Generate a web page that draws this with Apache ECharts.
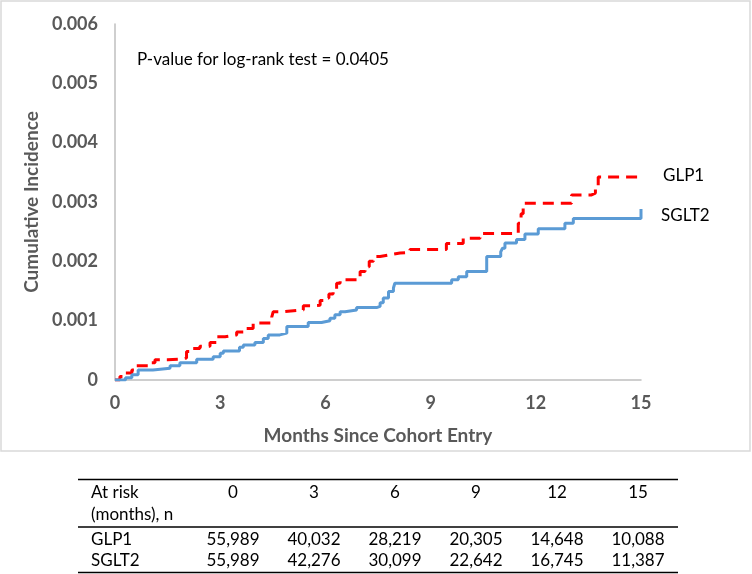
<!DOCTYPE html>
<html>
<head>
<meta charset="utf-8">
<title>Cumulative Incidence</title>
<script src="https://cdn.jsdelivr.net/npm/echarts@6.0.0/dist/echarts.min.js"></script>
<style>
  html, body { margin: 0; padding: 0; background: #fff; }
  #chart { width: 752px; height: 574px; }
</style>
</head>
<body>
<div id="chart"></div>
<script>
// curve data: [month, cumulative incidence] at each step
var glp1Curve = [
  [0, 0], [0.14, 0.00006], [0.3, 0.00012], [0.48, 0.00017], [0.62, 0.00024], [1.0, 0.00029],
  [1.14, 0.00034], [1.5, 0.00035], [1.85, 0.00037], [2.04, 0.00048], [2.2, 0.00053],
  [2.42, 0.00057], [2.71, 0.00063], [2.9, 0.00073], [3.14, 0.00076], [3.47, 0.00081],
  [3.66, 0.00087], [3.94, 0.00096], [4.47, 0.00106], [4.51, 0.00115], [4.8, 0.00118],
  [5.37, 0.00125], [5.61, 0.00126], [5.85, 0.00134], [5.99, 0.00138], [6.1, 0.00145],
  [6.22, 0.00152], [6.32, 0.00163], [6.42, 0.00169], [6.99, 0.00183], [7.13, 0.00191],
  [7.25, 0.002], [7.37, 0.00208], [7.56, 0.00211], [7.84, 0.00214], [8.13, 0.00215],
  [8.41, 0.0022], [9.45, 0.0023], [9.93, 0.00239], [10.41, 0.00247], [11.5, 0.00264],
  [11.58, 0.0028], [11.64, 0.00298], [13.02, 0.00312], [13.59, 0.00315], [13.7, 0.00328],
  [13.78, 0.00342], [15, 0.00342]
];
var sglt2Curve = [
  [0, 0], [0.3, 0.00004], [0.48, 0.00009], [0.66, 0.00017], [1.08, 0.0002], [1.57, 0.00024],
  [1.85, 0.00029], [2.33, 0.00035], [2.8, 0.00039], [3.0, 0.00045], [3.09, 0.00049],
  [3.55, 0.00055], [3.66, 0.00059], [3.99, 0.00063], [4.23, 0.0007], [4.37, 0.00076],
  [4.7, 0.00079], [4.9, 0.0009], [5.51, 0.00097], [5.89, 0.001], [6.13, 0.00104],
  [6.27, 0.0011], [6.42, 0.00115], [6.56, 0.00118], [6.89, 0.00122], [7.46, 0.00124],
  [7.56, 0.0013], [7.65, 0.00138], [7.8, 0.00149], [7.94, 0.00155], [7.98, 0.00163],
  [9.6, 0.00169], [9.79, 0.00174], [10.03, 0.00183], [10.6, 0.00208], [11.0, 0.00216],
  [11.05, 0.00222], [11.12, 0.00231], [11.45, 0.00237], [11.69, 0.00246], [12.07, 0.00255],
  [12.83, 0.00264], [13.07, 0.00272], [15, 0.00288]
];

// at-risk table
var riskMonths = ['0', '3', '6', '9', '12', '15'];
var glp1Risk = ['55,989', '40,032', '28,219', '20,305', '14,648', '10,088'];
var sglt2Risk = ['55,989', '42,276', '30,099', '22,642', '16,745', '11,387'];
var pValueText = 'P-value for log-rank test = 0.0405';

var chart = echarts.init(document.getElementById('chart'));
var font = 'Lato, "Noto Sans", sans-serif';

// table graphics
var tableGraphics = [];
var colX0 = 233, colStep = 81, labelX = 91;
[479.5, 527, 572.5].forEach(function (y) {
  tableGraphics.push({
    type: 'line', shape: { x1: 78, y1: y, x2: 678, y2: y },
    style: { stroke: '#000', lineWidth: 1.3 }, silent: true
  });
});
function tableText(x, y, txt, align) {
  tableGraphics.push({
    type: 'text', x: x, y: y,
    style: { text: txt, font: '17px ' + font, fill: '#000', align: align, verticalAlign: 'middle' }
  });
}
tableText(labelX, 493, 'At risk', 'left');
tableText(labelX, 514.5, '(months), n', 'left');
tableText(labelX, 540, 'GLP1', 'left');
tableText(labelX, 561, 'SGLT2', 'left');
riskMonths.forEach(function (m, i) {
  var x = colX0 + i * colStep;
  tableText(x, 493, m, 'center');
  tableText(x, 540, glp1Risk[i], 'center');
  tableText(x, 561, sglt2Risk[i], 'center');
});

var option = {
  animation: false,
  grid: { left: 115, right: 111, top: 24, bottom: 194 },
  xAxis: {
    type: 'value', min: 0, max: 15, interval: 3,
    name: 'Months Since Cohort Entry', nameLocation: 'middle', nameGap: 46,
    nameTextStyle: { fontFamily: font, fontSize: 19, fontWeight: 'bold', color: '#595959' },
    axisLine: { lineStyle: { color: '#bfbfbf', width: 1.5 } },
    axisTick: { show: false },
    splitLine: { show: false },
    axisLabel: { margin: 14, fontFamily: font, fontSize: 18, fontWeight: 'bold', color: '#595959' }
  },
  yAxis: {
    type: 'value', min: 0, max: 0.006, interval: 0.001,
    name: 'Cumulative Incidence', nameLocation: 'middle', nameGap: 67,
    nameTextStyle: { fontFamily: font, fontSize: 19, fontWeight: 'bold', color: '#595959' },
    axisLine: { show: true, lineStyle: { color: '#bfbfbf', width: 1.5 } },
    axisTick: { show: false },
    splitLine: { show: false },
    axisLabel: { margin: 17, fontFamily: font, fontSize: 18, fontWeight: 'bold', color: '#595959' }
  },
  series: [
    {
      name: 'GLP1', type: 'line', step: 'end', data: glp1Curve, showSymbol: false,
      lineStyle: { color: '#ff0000', width: 3, type: [11, 7] },
      itemStyle: { color: '#ff0000' },
      endLabel: { show: true, formatter: '{a}', distance: 22, offset: [0, -2],
        fontFamily: font, fontSize: 17, color: '#000' }
    },
    {
      name: 'SGLT2', type: 'line', step: 'end', data: sglt2Curve, showSymbol: false,
      lineStyle: { color: '#5b9bd5', width: 3 },
      itemStyle: { color: '#5b9bd5' },
      endLabel: { show: true, formatter: '{a}', distance: 20, offset: [0, 6],
        fontFamily: font, fontSize: 17, color: '#000' }
    }
  ],
  graphic: [
    {
      type: 'rect', shape: { x: 1, y: 1, width: 749, height: 450 },
      style: { fill: 'none', stroke: '#d9d9d9', lineWidth: 1.5 }, silent: true, z: -1
    },
    {
      type: 'text', x: 137, y: 60,
      style: { text: pValueText, font: '17px ' + font, fill: '#000', verticalAlign: 'middle' }
    }
  ].concat(tableGraphics)
};
chart.setOption(option);
</script>
</body>
</html>
